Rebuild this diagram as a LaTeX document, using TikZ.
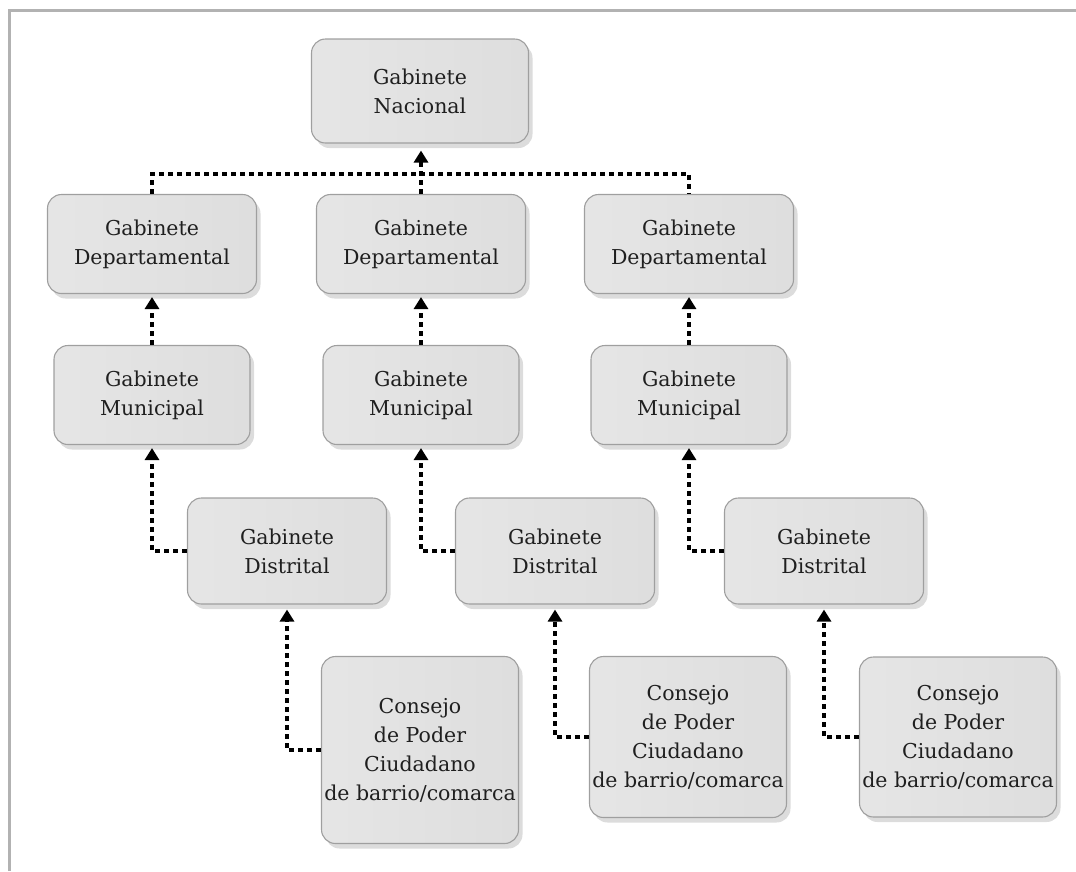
\documentclass[tikz,border=0pt]{standalone}
\usepackage{fontspec}
\setmainfont{DejaVu Serif}
\usetikzlibrary{arrows.meta,shadows,positioning}

\begin{document}
\begin{tikzpicture}[x=1pt,y=-1pt,
    gab/.style={draw=gray!75,line width=1.1pt,rounded corners=14pt,
      left color=gray!20,middle color=gray!2,right color=gray!26,
      drop shadow={shadow xshift=4pt,shadow yshift=-5pt,opacity=0.28,fill=gray},
      align=center,inner sep=0pt,text=black!88,
      font=\fontsize{20.5}{29}\selectfont},
    dots/.style={line width=4.2pt,dash pattern=on 4.6pt off 4.4pt},
    link/.style={dots,-{Triangle[length=12pt,width=14pt]},shorten >=3pt}]
  \useasboundingbox (0,0) rectangle (1076,871);
  \draw[gray!60,line width=3pt] (9,871) -- (9,10) -- (1076,10);
  % national level
  \node[gab,minimum width=217pt,minimum height=104pt] (nac) at (420,91)
    {Gabinete\\Nacional};
  \foreach \i/\xd/\xs in {1/152/287,2/421/555,3/689/824}
  {
    \node[gab,minimum width=209pt,minimum height=99pt] (dep\i) at (\xd,244)
      {Gabinete\\Departamental};
    \node[gab,minimum width=196pt,minimum height=99pt] (mun\i) at (\xd,395)
      {Gabinete\\Municipal};
    \node[gab,minimum width=199pt,minimum height=106pt] (dis\i) at (\xs,551)
      {Gabinete\\Distrital};
    \draw[link] (mun\i.north) -- (dep\i.south);
    \draw[link] (dis\i.west) -| (mun\i.south);
  }
  % councils
  \foreach \i/\xc/\yc/\h in {1/420/750/187,2/688/737/161,3/958/737/160}
  {
    \node[gab,minimum width=197pt,minimum height=\h pt] (con\i) at (\xc,\yc)
      {Consejo\\de Poder\\Ciudadano\\de barrio/comarca};
    \draw[link,shorten >=5pt] (con\i.west) -| (dis\i.south);
  }
  \draw[dots] (dep1.north) -- ++(0,-20) -| (dep3.north);
  \draw[link,shorten >=7pt] (dep2.north) -- (dep2.north |- nac.south);
\end{tikzpicture}
\end{document}
